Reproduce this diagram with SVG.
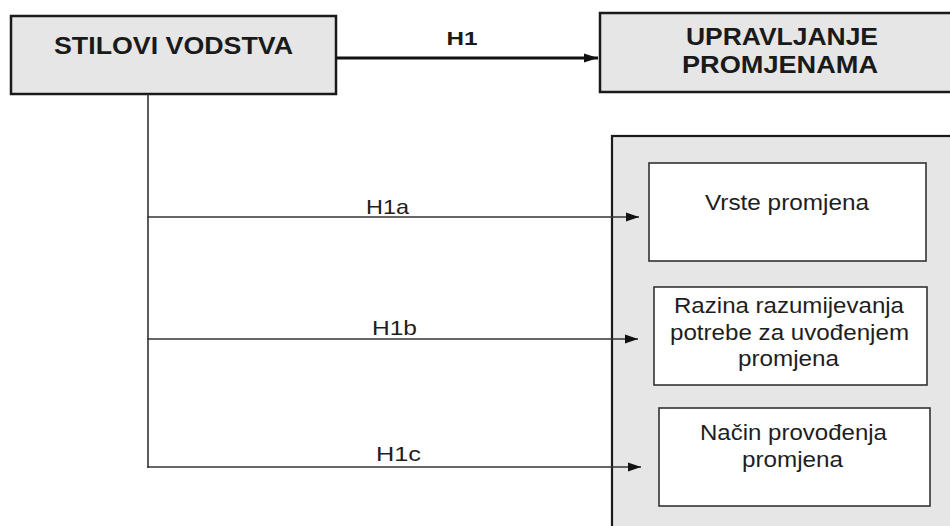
<svg xmlns="http://www.w3.org/2000/svg" width="950" height="526" viewBox="0 0 950 526">
<style>
  .gray { fill: #e6e6e6; stroke: #1a1a1a; stroke-width: 2.5; }
  .white { fill: #ffffff; stroke: #333333; stroke-width: 1.6; }
  .bold { font-family: "Liberation Sans", Arial, sans-serif; font-weight: bold; font-size: 24px; fill: #1a1a1a; text-anchor: middle; }
  .reg { font-family: "Liberation Sans", Arial, sans-serif; font-size: 22px; fill: #1e1e1e; text-anchor: middle; }
  .lbl { font-family: "Liberation Sans", Arial, sans-serif; font-size: 21px; fill: #1e1e1e; text-anchor: middle; }
  .thin { stroke: #333333; stroke-width: 1.6; fill: none; }
  .thick { stroke: #111111; stroke-width: 3.2; fill: none; }
</style>
<defs>
  <marker id="arrThick" markerUnits="userSpaceOnUse" viewBox="0 0 14 10" refX="14" refY="5" markerWidth="14" markerHeight="10" orient="auto">
    <path d="M0,0.5 L14,5 L0,9.5 Z" fill="#111111"/>
  </marker>
  <marker id="arrThin" markerUnits="userSpaceOnUse" viewBox="0 0 13 10" refX="13" refY="5" markerWidth="13" markerHeight="10" orient="auto">
    <path d="M0,0.5 L13,5 L0,9.5 Z" fill="#111111"/>
  </marker>
</defs>
<rect width="950" height="526" fill="#ffffff"/>

<g id="node-stilovi">
  <rect class="gray" x="11" y="16" width="325" height="78"/>
  <text class="bold" x="173.5" y="54" textLength="239" lengthAdjust="spacingAndGlyphs">STILOVI VODSTVA</text>
</g>

<g id="node-upravljanje">
  <rect class="gray" x="600" y="13" width="370" height="79"/>
  <text class="bold" x="782" y="45" textLength="192" lengthAdjust="spacingAndGlyphs">UPRAVLJANJE</text>
  <text class="bold" x="780" y="73" textLength="196" lengthAdjust="spacingAndGlyphs">PROMJENAMA</text>
</g>

<g id="node-container">
  <rect class="gray" x="612" y="136" width="360" height="410" style="stroke-width:2.2"/>
</g>

<g id="node-vrste">
  <rect class="white" x="649" y="163" width="277" height="98"/>
  <text class="reg" x="787" y="210" textLength="164" lengthAdjust="spacingAndGlyphs">Vrste promjena</text>
</g>

<g id="node-razina">
  <rect class="white" x="654" y="287" width="273" height="98"/>
  <text class="reg" x="789" y="313" textLength="230" lengthAdjust="spacingAndGlyphs">Razina razumijevanja</text>
  <text class="reg" x="789.5" y="340" textLength="239" lengthAdjust="spacingAndGlyphs">potrebe za uvođenjem</text>
  <text class="reg" x="788.5" y="366" textLength="101" lengthAdjust="spacingAndGlyphs">promjena</text>
</g>

<g id="node-nacin">
  <rect class="white" x="659" y="408" width="271" height="98"/>
  <text class="reg" x="793.5" y="440" textLength="187" lengthAdjust="spacingAndGlyphs">Način provođenja</text>
  <text class="reg" x="792.5" y="467" textLength="101" lengthAdjust="spacingAndGlyphs">promjena</text>
</g>

<g id="connectors">
  <line class="thick" x1="336" y1="58" x2="598" y2="58" marker-end="url(#arrThick)"/>
  <text class="bold" x="462" y="45" style="font-size:18px" textLength="31" lengthAdjust="spacingAndGlyphs">H1</text>

  <line class="thin" x1="148" y1="94" x2="148" y2="467.8"/>
  <line class="thin" x1="147.2" y1="217" x2="639" y2="217" marker-end="url(#arrThin)"/>
  <line class="thin" x1="147.2" y1="339" x2="638" y2="339" marker-end="url(#arrThin)"/>
  <line class="thin" x1="147.2" y1="467" x2="641" y2="467" marker-end="url(#arrThin)"/>

  <text class="lbl" x="387.5" y="214" textLength="43" lengthAdjust="spacingAndGlyphs">H1a</text>
  <text class="lbl" x="394.5" y="335" textLength="45" lengthAdjust="spacingAndGlyphs">H1b</text>
  <text class="lbl" x="398.5" y="461" textLength="45" lengthAdjust="spacingAndGlyphs">H1c</text>
</g>
</svg>
